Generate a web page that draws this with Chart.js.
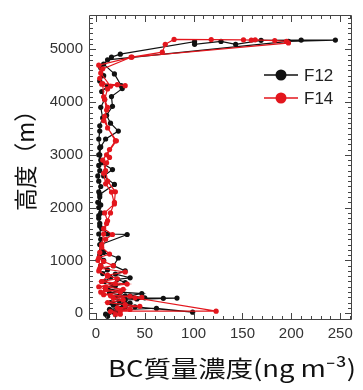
<!DOCTYPE html>
<html lang="ja">
  <head>
    <meta charset="UTF-8" />
    <title>BC質量濃度</title>
    <script src="https://cdn.jsdelivr.net/npm/chart.js"></script>
    <style>
      html, body { margin: 0; padding: 0; background: #fff; }
      #wrap { width: 363px; height: 390px; }
    </style>
  </head>
  <body>
    <div id="wrap"><canvas id="myChart"></canvas></div>
  </body>
  <script>
    // 系列名
    const seriesNames = ["F12", "F14"];

    // F12 (黒) : 濃度 ng m-3 と 高度 m (飛行順)
    const f12Conc = [
      12, 18, 22, 62, 99, 40, 28, 15, 30, 69, 83, 50, 35, 47, 25, 10, 20, 30, 22, 35,
      20, 30, 18, 23, 8, 5, 32, 12, 4, 3, 5, 4, 19, 8, 17, 6, 4, 5, 10, 23,
      15, 11, 17, 16, 27, 26, 19, 8, 16, 25, 101, 101, 128, 143, 169, 210, 245, 197, 12, 5,
      8, 4, 12, 6, 9, 5, 7, 4, 4, 3, 4, 3, 5, 3, 4, 2, 3, 5, 3, 4,
      2, 3, 5, 3, 4, 6, 3, 5, 4, 6, 4, 8, 5, 12, 7, 15, 9, 18, 10, 26,
      14, 30, 20, 42, 24, 35, 18, 30, 14, 24, 10
    ];
    const f12Alt = [
      -60, 20, 60, 93, 19, 120, 160, 200, 250, 280, 285, 290, 330, 370, 400, 450, 520, 580, 640, 670,
      740, 800, 900, 1045, 1150, 1300, 1490, 1500, 1650, 1850, 2050, 2250, 2440, 2600, 2720, 2850, 3000, 3150, 3300, 3450,
      3600, 3750, 3920, 4105, 4255, 4310, 4534, 4720, 4852, 4908, 5145, 5095, 5150, 5094, 5170, 5175, 5175, 5150, 4800, 4650,
      4500, 4400, 4300, 4200, 4050, 3900, 3700, 3550, 3450, 3300, 3135, 3000, 2900, 2800, 2700, 2600, 2500, 2400, 2300, 2200,
      2100, 2000, 1900, 1800, 1700, 1600, 1500, 1400, 1300, 1200, 1100, 1000, 900, 820, 750, 680, 600, 540, 470, 420,
      380, 330, 300, 270, 230, 190, 150, 110, 70, 30, -20
    ];

    // F14 (赤)
    const f14Conc = [
      20, 25, 123, 40, 47, 15, 5, 28, 10, 32, 6, 22, 12, 30, 4, 18, 8, 3, 14, 6,
      10, 17, 8, 12, 9, 19, 16, 10, 8, 11, 14, 11, 21, 12, 9, 12, 8, 7, 30, 22,
      15, 5, 3, 37, 68, 71, 80, 118, 151, 159, 163, 183, 195, 197, 36, 7, 4, 6, 12, 9,
      11, 8, 20, 14, 7, 10, 12, 20, 19, 15, 11, 8, 6, 4, 2, 5, 3, 12, 6, 20,
      3, 10, 25, 8, 35, 18, 28, 12, 30, 45, 22, 35, 15, 25
    ];
    const f14Alt = [
      -30, 40, 37, 290, 300, 330, 400, 450, 500, 550, 600, 650, 720, 780, 850, 900, 980, 1050, 1120, 1250,
      1400, 1490, 1600, 1750, 1900, 2070, 2295, 2450, 2650, 2850, 2950, 3000, 3265, 3510, 3730, 3900, 4100, 4350, 4310, 4330,
      4300, 4550, 4700, 4852, 4945, 5094, 5188, 5185, 5180, 5175, 5180, 5165, 5150, 5120, 4850, 4630, 4450, 4340, 4250, 4050,
      3850, 3650, 3265, 3100, 2900, 2700, 2500, 2300, 2100, 1900, 1700, 1500, 1300, 1150, 1000, 900, 800, 700, 600, 560,
      500, 450, 400, 350, 320, 280, 250, 200, 160, 130, 100, 70, 30, -20
    ];

    // 目盛り
    const xTicks = [0, 50, 100, 150, 200, 250];
    const yTicks = [0, 1000, 2000, 3000, 4000, 5000];

    const black = "#111111";
    const red = "#e3161d";

    function toPoints(xs, ys) {
      return xs.map((v, i) => ({ x: v, y: ys[i] }));
    }

    // 文字列を指定の長さに合わせて描く
    function fitText(ctx, text, cx, cy, span) {
      const w = ctx.measureText(text).width;
      ctx.save();
      ctx.translate(cx, cy);
      ctx.scale(span / w, 1);
      ctx.fillText(text, 0, 0);
      ctx.restore();
    }

    // 枠と内向きの目盛り (上下左右)
    const boxTicks = {
      id: "boxTicks",
      afterDatasetsDraw(chart) {
        const { ctx, chartArea: a, scales } = chart;
        const x = scales.x, y = scales.y;
        ctx.save();
        ctx.strokeStyle = "#444";
        ctx.lineWidth = 1;
        ctx.beginPath();
        ctx.rect(a.left + 0.5, a.top + 0.5, a.right - a.left - 1, a.bottom - a.top - 1);
        for (let v = 0; v <= x.max; v += 10) {
          const px = Math.round(x.getPixelForValue(v)) + 0.5;
          const len = v % 50 === 0 ? 7 : 4;
          ctx.moveTo(px, a.bottom); ctx.lineTo(px, a.bottom - len);
          ctx.moveTo(px, a.top); ctx.lineTo(px, a.top + len);
        }
        for (let v = 0; v <= y.max; v += 100) {
          const py = Math.round(y.getPixelForValue(v)) + 0.5;
          const len = v % 1000 === 0 ? 7 : 4;
          ctx.moveTo(a.left, py); ctx.lineTo(a.left + len, py);
          ctx.moveTo(a.right, py); ctx.lineTo(a.right - len, py);
        }
        ctx.stroke();
        ctx.restore();
      },
      afterDraw(chart) {
        const { ctx } = chart;
        ctx.save();
        // 凡例
        const items = [[seriesNames[0], black, 75], [seriesNames[1], red, 98]];
        ctx.font = "17px 'Liberation Sans', Arial, sans-serif";
        ctx.textBaseline = "middle";
        items.forEach(([name, col, ly]) => {
          ctx.strokeStyle = col;
          ctx.fillStyle = col;
          ctx.lineWidth = 1.3;
          ctx.beginPath();
          ctx.moveTo(264, ly); ctx.lineTo(298, ly);
          ctx.stroke();
          ctx.beginPath();
          ctx.arc(281, ly, 5.5, 0, Math.PI * 2);
          ctx.fill();
          ctx.fillStyle = "#222";
          ctx.fillText(name, 304, ly + 1);
        });
        // 軸タイトル
        ctx.fillStyle = "#111";
        ctx.font = "23px 'Noto Sans CJK JP', sans-serif";
        ctx.textAlign = "center";
        fitText(ctx, "BC質量濃度(ng m⁻³)", 232, 368, 248);
        ctx.translate(25, 155);
        ctx.rotate(-Math.PI / 2);
        fitText(ctx, "高度（m）", 0, 0, 112);
        ctx.restore();
      }
    };

    const ctx = document.querySelector("#myChart");

    new Chart(ctx, {
      type: "scatter",
      data: {
        datasets: [
          {
            label: seriesNames[0],
            data: toPoints(f12Conc, f12Alt),
            showLine: true,
            borderColor: black,
            backgroundColor: black,
            borderWidth: 1.2,
            pointRadius: 2.6,
            pointBorderWidth: 0,
            order: 1,
          },
          {
            label: seriesNames[1],
            data: toPoints(f14Conc, f14Alt),
            showLine: true,
            borderColor: red,
            backgroundColor: red,
            borderWidth: 1.2,
            pointRadius: 2.6,
            pointBorderWidth: 0,
            order: 0,
          },
        ],
      },
      options: {
        responsive: true,
        maintainAspectRatio: false,
        animation: false,
        layout: { padding: { top: 10, right: 11, left: 0, bottom: 0 } },
        plugins: { legend: { display: false }, tooltip: { enabled: false } },
        scales: {
          x: {
            type: "linear",
            min: -7,
            max: 262,
            grid: { display: false, drawTicks: false },
            border: { display: false },
            afterFit: (s) => { s.height = 70; },
            afterBuildTicks: (s) => { s.ticks = xTicks.map((v) => ({ value: v })); },
            ticks: {
              padding: 5,
              color: "#333",
              font: { family: "'Liberation Sans', Arial, sans-serif", size: 15 },
              callback: (v) => String(v),
            },
          },
          y: {
            type: "linear",
            min: -130,
            max: 5650,
            grid: { display: false, drawTicks: false },
            border: { display: false },
            afterFit: (s) => { s.width = 89; },
            afterBuildTicks: (s) => { s.ticks = yTicks.map((v) => ({ value: v })); },
            ticks: {
              padding: 6,
              color: "#333",
              font: { family: "'Liberation Sans', Arial, sans-serif", size: 15 },
              callback: (v) => String(v),
            },
          },
        },
      },
      plugins: [boxTicks],
    });
  </script>
</html>
